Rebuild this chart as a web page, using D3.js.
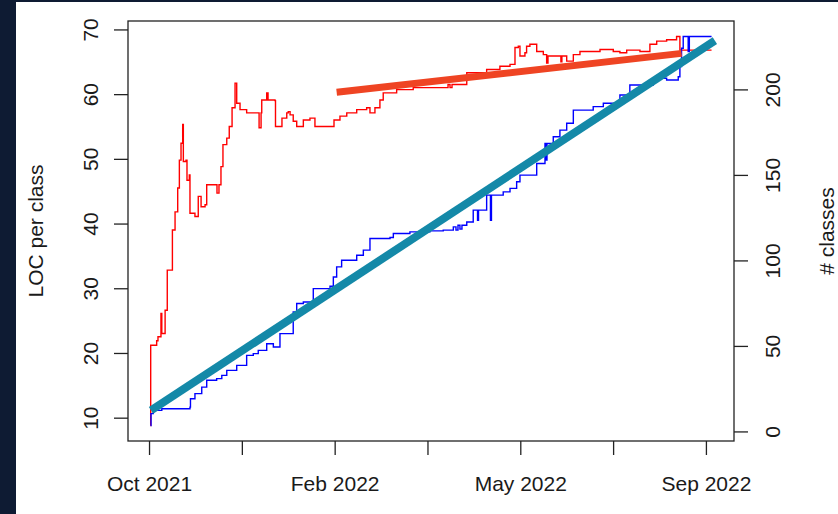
<!doctype html>
<html>
<head>
<meta charset="utf-8">
<title>LOC per class</title>
<script src="https://cdn.jsdelivr.net/npm/d3@7"></script>
<style>
  body { margin: 0; background: #0e1b33; }
  text { font-family: "Liberation Sans", Arial, sans-serif; fill: #1a1a1a; }
</style>
</head>
<body>
<script>
// days are counted from 2021-10-01
var startDate = Date.UTC(2021, 9, 1);

// LOC per class (left axis), red step line
var locDays = [0.85, 1.0, 4.6, 5.4, 7.2, 7.7, 9.7, 11.0, 13.7, 14.1, 15.7, 17.3, 18.3, 19.3, 20.3, 20.7,
  22.3, 22.9, 24.3, 24.7, 27.7, 29.7, 31.4, 33.8, 34.8, 39.8, 41.0, 42.2, 43.4, 44.6, 46.9, 48.4,
  50.1, 51.9, 52.9, 54.9, 58.9, 65.9, 66.4, 67.6, 68.0, 71.0, 71.8, 76.0, 76.3, 79.0, 80.2, 83.1,
  84.0, 85.1, 87.0, 89.1, 93.1, 97.1, 100.1, 111.2, 111.6, 115.2, 119.3, 125.3, 131.3, 133.3, 136.3,
  139.3, 141.3, 147.4, 149.4, 159.4, 180.4, 181.6, 182.8, 191.7, 203.7, 211.7, 217.8, 220.8, 222.8,
  223.8, 226.8, 227.8, 229.8, 232.8, 233.9, 237.9, 239.9, 240.7, 247.9, 248.5, 249.1, 252.0, 256.0,
  260.0, 272.1, 280.1, 284.1, 288.2, 296.2, 302.2, 306.3, 312.3, 318.3, 319.7, 320.3, 339.4];
var locValues = [8.8, 21.2, 21.9, 22.5, 26.1, 23.0, 26.6, 32.8, 32.8, 39.0, 41.8, 45.5, 49.8, 52.4, 55.3, 49.6,
  49.8, 46.7, 47.5, 41.6, 41.1, 44.2, 42.6, 42.9, 46.0, 46.0, 44.7, 46.0, 48.8, 52.2, 53.2, 55.0,
  57.9, 61.7, 58.6, 57.6, 57.1, 57.1, 54.8, 57.1, 59.1, 60.2, 59.1, 59.0, 55.0, 55.0, 56.3, 57.1,
  57.3, 56.8, 55.8, 55.0, 56.0, 56.3, 55.0, 55.0, 56.0, 56.6, 57.1, 57.6, 57.9, 57.1, 57.9,
  59.1, 60.2, 60.2, 60.7, 61.0, 61.5, 61.0, 61.5, 63.3, 63.8, 64.3, 64.6, 67.2, 67.4,
  65.9, 66.4, 67.4, 67.7, 67.7, 66.6, 66.1, 64.8, 65.9, 65.9, 65.0, 65.9, 65.1, 66.1,
  66.6, 66.9, 66.6, 66.4, 66.8, 66.6, 67.7, 68.2, 68.4, 68.9, 68.9, 66.8, 66.8];

// number of classes (right axis), blue step line
var classDays = [0.85, 1.2, 2.6, 7.7, 24.7, 25.0, 27.7, 31.8, 34.8, 40.8, 43.9, 46.9, 52.9, 58.9, 62.9,
  65.9, 71.0, 75.0, 79.0, 87.0, 89.1, 93.1, 99.1, 109.2, 111.2, 113.2, 116.2, 125.3, 129.3, 133.3,
  145.4, 147.4, 157.4, 169.5, 177.5, 183.6, 185.2, 186.4, 187.6, 188.8, 191.7, 195.6, 198.2, 198.8,
  203.7, 206.0, 206.6, 213.7, 217.8, 221.8, 223.8, 233.9, 238.9, 239.5, 240.1, 243.9, 247.9, 252.0,
  256.0, 268.0, 274.1, 284.1, 290.1, 304.2, 312.3, 319.3, 320.3, 321.3, 322.3, 324.8, 325.3, 326.0, 339.4];
var classValues = [3.5, 10.4, 12.3, 13.3, 14.2, 19.1, 22.1, 25.9, 29.9, 30.9, 32.8, 35.7, 38.6, 44.5, 45.5,
  47.4, 51.3, 49.4, 57.2, 69.8, 74.8, 75.7, 83.5, 84.9, 90.3, 96.2, 100.1, 103.0, 106.0, 112.8,
  113.4, 115.7, 116.7, 117.3, 117.7, 119.6, 117.7, 120.6, 118.3, 120.6, 122.5, 129.4, 123.5, 129.4,
  138.2, 123.5, 138.2, 140.1, 142.1, 146.0, 149.9, 156.7, 168.4, 158.7, 168.4, 172.3, 176.2, 180.2,
  187.9, 189.9, 191.9, 196.7, 202.6, 206.5, 205.5, 207.4, 213.3, 224.1, 230.9, 230.9, 222.1, 230.9, 230.9];

// trend lines drawn over the chart
var classTrendDays = [1.2, 341.4];
var classTrendValues = [12.3, 228.5];
var locTrendDays = [113.2, 321.3];
var locTrendValues = [60.3, 66.3];

// axes
var xTickDays = [0, 56, 112, 168, 224, 280, 336];
var xTickLabels = ["Oct 2021", "", "Feb 2022", "", "May 2022", "", "Sep 2022"];
var leftTicks = [10, 20, 30, 40, 50, 60, 70];
var rightTicks = [0, 50, 100, 150, 200];

var W = 838, H = 514;
var box = {left: 128, right: 734, top: 21, bottom: 441};

function toDate(d) { return new Date(startDate + d * 864e5); }
function padded(ext) { var p = (ext[1] - ext[0]) * 0.04; return [ext[0] - p, ext[1] + p]; }

var svg = d3.select('body').append('svg')
  .attr('width', W).attr('height', H)
  .style('display', 'block');

svg.append('rect').attr('x', 16).attr('y', 2).attr('width', W - 16).attr('height', H - 2).attr('fill', '#fff');

var xDom = padded(d3.extent(locDays.concat(classDays))).map(toDate);
var x = d3.scaleUtc().domain(xDom).range([box.left, box.right]);
var yL = d3.scaleLinear().domain(padded(d3.extent(locValues))).range([box.bottom, box.top]);
var yR = d3.scaleLinear().domain(padded(d3.extent(classValues))).range([box.bottom, box.top]);

var fs = 21;

// left axis
var gl = svg.append('g').attr('transform', 'translate(' + box.left + ',0)')
  .call(d3.axisLeft(yL).tickValues(leftTicks).tickSize(14).tickFormat(d3.format('d')));
gl.selectAll('text').attr('x', null).attr('dy', null)
  .attr('transform', 'translate(-30,0) rotate(-90)')
  .attr('text-anchor', 'middle').style('font-size', fs + 'px');

// right axis
var gr = svg.append('g').attr('transform', 'translate(' + box.right + ',0)')
  .call(d3.axisRight(yR).tickValues(rightTicks).tickSize(14).tickFormat(d3.format('d')));
gr.selectAll('text').attr('x', null).attr('dy', null)
  .attr('transform', 'translate(46,0) rotate(-90)')
  .attr('text-anchor', 'middle').style('font-size', fs + 'px');

// bottom axis
var gb = svg.append('g').attr('transform', 'translate(0,' + box.bottom + ')')
  .call(d3.axisBottom(x).tickValues(xTickDays.map(toDate)).tickSize(14)
    .tickFormat(function (d, i) { return xTickLabels[i]; }));
gb.selectAll('text').attr('y', 50).attr('dy', null).style('font-size', fs + 'px');

[gl, gr, gb].forEach(function (g) {
  g.select('.domain').remove();
  g.selectAll('line').attr('stroke', '#222').attr('stroke-width', 1.3);
  g.selectAll('text').attr('fill', '#1a1a1a').attr('font-family', null);
});

// axis titles
svg.append('text').attr('transform', 'translate(43,' + (box.top + box.bottom) / 2 + ') rotate(-90)')
  .attr('text-anchor', 'middle').style('font-size', fs + 'px').text('LOC per class');
svg.append('text').attr('transform', 'translate(834,' + (box.top + box.bottom) / 2 + ') rotate(-90)')
  .attr('text-anchor', 'middle').style('font-size', fs + 'px').text('# classes');

// series
var redLine = d3.line().curve(d3.curveStepAfter)
  .x(function (d) { return x(toDate(d[0])); }).y(function (d) { return yL(d[1]); });
var blueLine = d3.line().curve(d3.curveStepAfter)
  .x(function (d) { return x(toDate(d[0])); }).y(function (d) { return yR(d[1]); });

svg.append('path').datum(d3.zip(locDays, locValues))
  .attr('d', redLine).attr('fill', 'none').attr('stroke', '#ff0000').attr('stroke-width', 1.4);
svg.append('path').datum(d3.zip(classDays, classValues))
  .attr('d', blueLine).attr('fill', 'none').attr('stroke', '#0000ff').attr('stroke-width', 1.4);

// box
svg.append('rect').attr('x', box.left).attr('y', box.top)
  .attr('width', box.right - box.left).attr('height', box.bottom - box.top)
  .attr('fill', 'none').attr('stroke', '#222').attr('stroke-width', 1.3);

// trend overlays
var straight = d3.line();
svg.append('path')
  .attr('d', straight(d3.zip(locTrendDays, locTrendValues).map(function (d) { return [x(toDate(d[0])), yL(d[1])]; })))
  .attr('stroke', '#ef4423').attr('stroke-width', 7).attr('fill', 'none');
svg.append('path')
  .attr('d', straight(d3.zip(classTrendDays, classTrendValues).map(function (d) { return [x(toDate(d[0])), yR(d[1])]; })))
  .attr('stroke', '#1489a8').attr('stroke-width', 8).attr('fill', 'none');
</script>
</body>
</html>
